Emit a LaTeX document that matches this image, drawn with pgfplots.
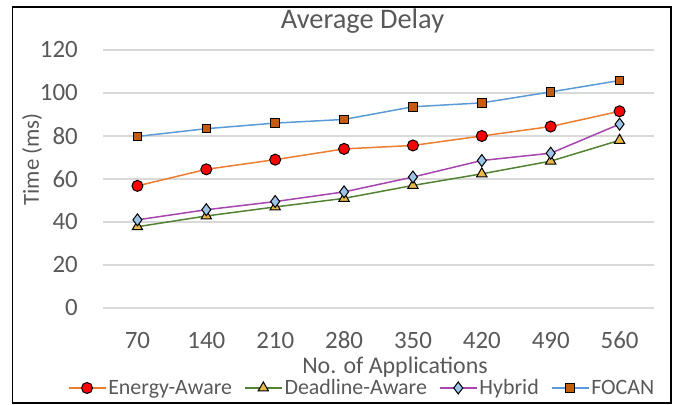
\documentclass[border=0pt]{standalone}
\usepackage{fontspec}
\setmainfont{Carlito}
\usepackage{pgfplots}
\pgfplotsset{compat=1.18}

\definecolor{txtgray}{HTML}{595959}
\definecolor{gridgray}{HTML}{D9D9D9}
\definecolor{lnorange}{HTML}{ED7D31}
\definecolor{lngreen}{HTML}{548235}
\definecolor{lnpurple}{HTML}{A545AE}
\definecolor{lnblue}{HTML}{5B9BD5}
\definecolor{mkgold}{HTML}{E8B84A}
\definecolor{mkblue}{HTML}{9DC3E6}
\definecolor{mkbrown}{HTML}{C55A11}

\begin{document}
\begin{tikzpicture}
\useasboundingbox (0bp,0bp) rectangle (677bp,405bp);
\draw[black, line width=1.8bp] (12.5bp,2bp) rectangle (671bp,398.3bp);
\begin{axis}[
  at={(103bp,97bp)}, anchor=south west,
  scale only axis, width=551bp, height=258bp,
  xmin=-0.5, xmax=7.5, ymin=0, ymax=120,
  xtick={0,...,7},
  xticklabels={70,140,210,280,350,420,490,560},
  ytick={0,20,...,120},
  /pgf/number format/assume math mode=true,
  axis line style={draw=none},
  major tick length=0pt,
  ymajorgrids,
  grid style={gridgray, line width=1.2bp},
  font=\fontsize{25}{30}\selectfont,
  tick label style={text=txtgray},
  xticklabel style={anchor=base, inner sep=0pt, yshift=-40bp},
  yticklabel style={anchor=east, inner sep=0pt, xshift=-25bp},
  title={Average Delay},
  title style={at={(axis description cs:0.471,1.061)}, anchor=base,
    text=txtgray, font=\fontsize{28.5}{33}\selectfont},
  xlabel={No. of Applications},
  xlabel style={at={(axis description cs:0.53,-0.252)}, anchor=base,
    text=txtgray, font=\fontsize{24}{29}\selectfont},
  ylabel={Time (ms)},
  ylabel style={at={(axis description cs:-0.1289,0.576)}, anchor=center,
    rotate=0, text=txtgray, font=\fontsize{23}{28}\selectfont},
  legend columns=4,
  legend style={draw=none, fill=none, at={(axis description cs:0.47,-0.31)},
    anchor=center, font=\fontsize{22}{26}\selectfont, text=txtgray,
    /tikz/every even column/.append style={column sep=10bp}},
  legend image code/.code={
    \draw[mark repeat=2, mark phase=2, #1]
      plot coordinates {(0bp,0bp) (18.5bp,0bp) (37bp,0bp)};
  },
  every axis plot/.append style={line width=1.5bp},
]
\addplot[color=lnorange, mark=*, mark size=5.5bp,
  mark options={solid, fill=red, draw=black, line width=1bp}] coordinates {
  (0,56.8) (1,64.5) (2,69) (3,74) (4,75.6) (5,80) (6,84.4) (7,91.5)};
\addplot[color=lngreen, mark=triangle*, mark size=6bp,
  mark options={solid, fill=mkgold, draw=black, line width=1bp}] coordinates {
  (0,37.8) (1,42.8) (2,47) (3,51) (4,57) (5,62.4) (6,68.3) (7,78)};
\addplot[color=lnpurple, mark=diamond*, mark size=6bp,
  mark options={solid, fill=mkblue, draw=black, line width=1bp}] coordinates {
  (0,41) (1,45.7) (2,49.5) (3,54) (4,60.9) (5,68.6) (6,72) (7,85.5)};
\addplot[color=lnblue, mark=square*, mark size=4.3bp,
  mark options={solid, fill=mkbrown, draw=black, line width=1bp}] coordinates {
  (0,79.8) (1,83.4) (2,86) (3,87.7) (4,93.6) (5,95.4) (6,100.5) (7,105.8)};
\legend{Energy-Aware,Deadline-Aware,Hybrid,FOCAN}
\end{axis}
\end{tikzpicture}
\end{document}
